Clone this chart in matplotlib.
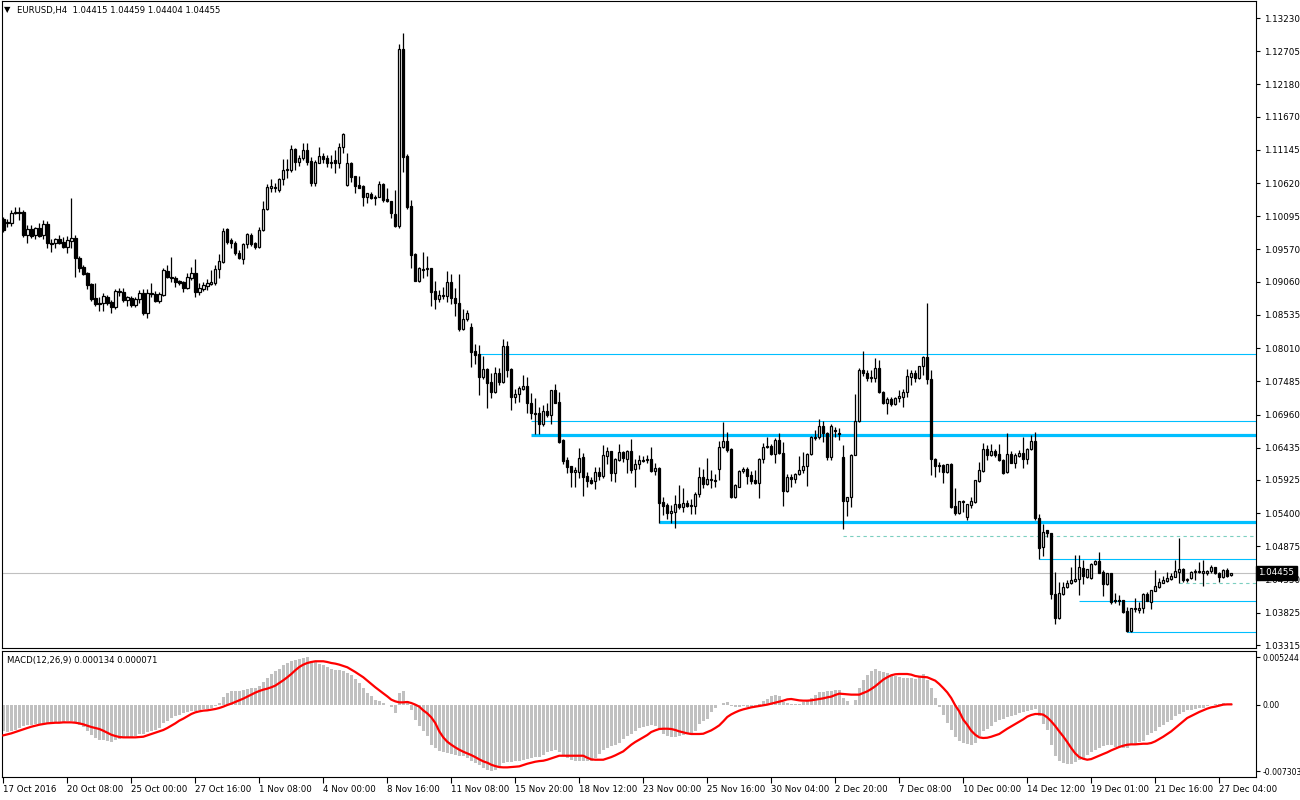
import matplotlib.pyplot as plt
import matplotlib.transforms as mtransforms
import numpy as np

plt.rcParams['font.family'] = ['DejaVu Sans']

# EURUSD H4 candles
open_ = [
    1.1005, 1.0999, 1.0999, 1.1015, 1.1016, 1.1016, 1.0980, 1.0989, 1.0980, 1.0991,
    1.0980, 1.0997, 1.0967, 1.0967, 1.0974, 1.0969, 1.0961, 1.0970, 1.0975, 1.0944,
    1.0929, 1.0920, 1.0902, 1.0880, 1.0872, 1.0872, 1.0882, 1.0874, 1.0866, 1.0890,
    1.0890, 1.0877, 1.0880, 1.0869, 1.0879, 1.0888, 1.0857, 1.0887, 1.0887, 1.0876,
    1.0885, 1.0923, 1.0913, 1.0912, 1.0907, 1.0906, 1.0896, 1.0912, 1.0920, 1.0890,
    1.0894, 1.0899, 1.0902, 1.0904, 1.0926, 1.0937, 1.0989, 1.0972, 1.0967, 1.0951,
    1.0942, 1.0966, 1.0980, 1.0967, 1.0961, 1.0988, 1.1021, 1.1054, 1.1056, 1.1051,
    1.1068, 1.1083, 1.1083, 1.1116, 1.1095, 1.1101, 1.1114, 1.1097, 1.1062, 1.1094,
    1.1105, 1.1101, 1.1094, 1.1098, 1.1094, 1.1119, 1.1059, 1.1094, 1.1073, 1.1059,
    1.1057, 1.1040, 1.1045, 1.1040, 1.1040, 1.1061, 1.1037, 1.1034, 1.1013, 1.0994,
    1.1274, 1.1105, 1.1026, 1.0950, 1.0907, 1.0926, 1.0926, 1.0928, 1.0891, 1.0879,
    1.0885, 1.0883, 1.0906, 1.0880, 1.0872, 1.0831, 1.0847, 1.0834, 1.0796, 1.0792,
    1.0755, 1.0768, 1.0747, 1.0732, 1.0762, 1.0747, 1.0804, 1.0768, 1.0724, 1.0728,
    1.0736, 1.0741, 1.0714, 1.0698, 1.0698, 1.0681, 1.0702, 1.0695, 1.0735, 1.0716,
    1.0656, 1.0624, 1.0614, 1.0605, 1.0605, 1.0629, 1.0599, 1.0593, 1.0591, 1.0605,
    1.0599, 1.0630, 1.0638, 1.0604, 1.0624, 1.0637, 1.0626, 1.0638, 1.0610, 1.0618,
    1.0624, 1.0624, 1.0626, 1.0606, 1.0611, 1.0558, 1.0553, 1.0540, 1.0542, 1.0554,
    1.0550, 1.0556, 1.0553, 1.0551, 1.0570, 1.0597, 1.0586, 1.0594, 1.0593, 1.0610,
    1.0645, 1.0654, 1.0641, 1.0566, 1.0581, 1.0607, 1.0610, 1.0600, 1.0593, 1.0588,
    1.0626, 1.0646, 1.0646, 1.0634, 1.0656, 1.0635, 1.0575, 1.0597, 1.0594, 1.0602,
    1.0608, 1.0615, 1.0634, 1.0659, 1.0661, 1.0678, 1.0667, 1.0629, 1.0672, 1.0667,
    1.0629, 1.0559, 1.0566, 1.0632, 1.0686, 1.0766, 1.0762, 1.0754, 1.0754, 1.0770,
    1.0732, 1.0714, 1.0721, 1.0713, 1.0722, 1.0724, 1.0732, 1.0755, 1.0762, 1.0754,
    1.0773, 1.0787, 1.0752, 1.0626, 1.0616, 1.0616, 1.0605, 1.0618, 1.0551, 1.0540,
    1.0559, 1.0534, 1.0553, 1.0558, 1.0591, 1.0607, 1.0641, 1.0632, 1.0638, 1.0634,
    1.0624, 1.0605, 1.0634, 1.0619, 1.0630, 1.0635, 1.0626, 1.0641, 1.0654, 1.0532,
    1.0487, 1.0513, 1.0509, 1.0412, 1.0374, 1.0412, 1.0423, 1.0430, 1.0433, 1.0436,
    1.0453, 1.0439, 1.0438, 1.0460, 1.0464, 1.0447, 1.0428, 1.0446, 1.0403, 1.0403,
    1.0403, 1.0385, 1.0354, 1.0388, 1.0387, 1.0390, 1.0412, 1.0400, 1.0417, 1.0423,
    1.0430, 1.0433, 1.0436, 1.0439, 1.0447, 1.0452, 1.0434, 1.0437, 1.0447, 1.0447,
    1.0446, 1.0446, 1.0449, 1.0455, 1.0446, 1.0439, 1.0450, 1.04415,
]
high = [
    1.1008, 1.1005, 1.1019, 1.1024, 1.1024, 1.1019, 1.0996, 1.0996, 1.0993, 1.0999,
    1.1004, 1.1002, 1.0974, 1.0975, 1.0980, 1.0977, 1.0978, 1.1038, 1.0980, 1.0947,
    1.0932, 1.0921, 1.0904, 1.0904, 1.0882, 1.0888, 1.0885, 1.0877, 1.0894, 1.0896,
    1.0896, 1.0883, 1.0883, 1.0882, 1.0893, 1.0894, 1.0894, 1.0904, 1.0891, 1.0890,
    1.0928, 1.0932, 1.0945, 1.0915, 1.0909, 1.0907, 1.0920, 1.0929, 1.0942, 1.0904,
    1.0906, 1.0910, 1.0925, 1.0932, 1.0950, 1.0991, 1.0991, 1.0975, 1.0970, 1.0956,
    1.0967, 1.0983, 1.0983, 1.0969, 1.0993, 1.1034, 1.1061, 1.1068, 1.1062, 1.1070,
    1.1100, 1.1100, 1.1122, 1.1117, 1.1106, 1.1125, 1.1125, 1.1103, 1.1098, 1.1119,
    1.1110, 1.1106, 1.1106, 1.1114, 1.1125, 1.1141, 1.1109, 1.1095, 1.1073, 1.1073,
    1.1059, 1.1046, 1.1048, 1.1043, 1.1065, 1.1062, 1.1054, 1.1034, 1.1051, 1.1282,
    1.1300, 1.1108, 1.1035, 1.0951, 1.0929, 1.0953, 1.0947, 1.0928, 1.0907, 1.0893,
    1.0898, 1.0923, 1.0918, 1.0896, 1.0918, 1.0863, 1.0861, 1.0841, 1.0808, 1.0806,
    1.0789, 1.0770, 1.0762, 1.0771, 1.0770, 1.0816, 1.0812, 1.0770, 1.0736, 1.0741,
    1.0758, 1.0755, 1.0730, 1.0722, 1.0708, 1.0711, 1.0714, 1.0735, 1.0744, 1.0732,
    1.0657, 1.0629, 1.0614, 1.0613, 1.0643, 1.0635, 1.0605, 1.0597, 1.0613, 1.0613,
    1.0648, 1.0645, 1.0638, 1.0627, 1.0649, 1.0638, 1.0640, 1.0657, 1.0626, 1.0632,
    1.0630, 1.0632, 1.0645, 1.0619, 1.0613, 1.0566, 1.0556, 1.0553, 1.0569, 1.0585,
    1.0580, 1.0561, 1.0562, 1.0574, 1.0613, 1.0610, 1.0627, 1.0608, 1.0602, 1.0654,
    1.0684, 1.0668, 1.0643, 1.0586, 1.0608, 1.0613, 1.0613, 1.0607, 1.0608, 1.0627,
    1.0651, 1.0661, 1.0649, 1.0659, 1.0667, 1.0653, 1.0602, 1.0602, 1.0604, 1.0630,
    1.0637, 1.0635, 1.0662, 1.0672, 1.0689, 1.0686, 1.0668, 1.0681, 1.0676, 1.0675,
    1.0648, 1.0566, 1.0634, 1.0728, 1.0770, 1.0796, 1.0766, 1.0766, 1.0785, 1.0782,
    1.0733, 1.0724, 1.0724, 1.0724, 1.0735, 1.0736, 1.0768, 1.0766, 1.0766, 1.0773,
    1.0789, 1.0872, 1.0766, 1.0627, 1.0621, 1.0618, 1.0618, 1.0619, 1.0580, 1.0559,
    1.0561, 1.0555, 1.0566, 1.0592, 1.0621, 1.0651, 1.0648, 1.0649, 1.0641, 1.0649,
    1.0626, 1.0667, 1.0638, 1.0635, 1.0640, 1.0661, 1.0643, 1.0664, 1.0668, 1.0539,
    1.0523, 1.0513, 1.0509, 1.0447, 1.0431, 1.0431, 1.0434, 1.0455, 1.0474, 1.0474,
    1.0466, 1.0452, 1.0461, 1.0466, 1.0479, 1.0450, 1.0446, 1.0446, 1.0414, 1.0411,
    1.0403, 1.0392, 1.0390, 1.0406, 1.0400, 1.0414, 1.0415, 1.0419, 1.0450, 1.0437,
    1.0441, 1.0447, 1.0446, 1.0466, 1.0501, 1.0453, 1.0437, 1.0449, 1.0452, 1.0463,
    1.0466, 1.0450, 1.0458, 1.0455, 1.0447, 1.0452, 1.0453, 1.04459,
]
low = [
    1.0985, 1.0993, 1.0994, 1.1013, 1.1004, 1.0977, 1.0967, 1.0975, 1.0974, 1.0977,
    1.0974, 1.0959, 1.0953, 1.0959, 1.0966, 1.0959, 1.0951, 1.0959, 1.0913, 1.0921,
    1.0917, 1.0894, 1.0876, 1.0868, 1.0860, 1.0860, 1.0869, 1.0857, 1.0863, 1.0883,
    1.0874, 1.0868, 1.0866, 1.0866, 1.0872, 1.0853, 1.0849, 1.0882, 1.0874, 1.0872,
    1.0883, 1.0912, 1.0906, 1.0898, 1.0901, 1.0890, 1.0894, 1.0909, 1.0882, 1.0885,
    1.0891, 1.0893, 1.0901, 1.0901, 1.0912, 1.0936, 1.0966, 1.0959, 1.0948, 1.0942,
    1.0934, 1.0959, 1.0963, 1.0958, 1.0959, 1.0986, 1.1019, 1.1048, 1.1048, 1.1048,
    1.1059, 1.1070, 1.1080, 1.1083, 1.1089, 1.1098, 1.1090, 1.1057, 1.1057, 1.1094,
    1.1094, 1.1087, 1.1086, 1.1078, 1.1086, 1.1109, 1.1057, 1.1064, 1.1046, 1.1054,
    1.1026, 1.1030, 1.1037, 1.1027, 1.1040, 1.1032, 1.1032, 1.1007, 1.0993, 1.0991,
    1.1080, 1.1021, 1.0928, 1.0907, 1.0906, 1.0912, 1.0915, 1.0868, 1.0863, 1.0874,
    1.0879, 1.0874, 1.0871, 1.0852, 1.0828, 1.0830, 1.0844, 1.0771, 1.0776, 1.0727,
    1.0752, 1.0706, 1.0722, 1.0730, 1.0743, 1.0746, 1.0755, 1.0703, 1.0714, 1.0716,
    1.0735, 1.0698, 1.0689, 1.0665, 1.0665, 1.0678, 1.0692, 1.0681, 1.0714, 1.0651,
    1.0618, 1.0604, 1.0581, 1.0581, 1.0596, 1.0567, 1.0581, 1.0586, 1.0578, 1.0593,
    1.0596, 1.0618, 1.0591, 1.0589, 1.0622, 1.0621, 1.0604, 1.0604, 1.0581, 1.0610,
    1.0621, 1.0619, 1.0605, 1.0600, 1.0525, 1.0537, 1.0531, 1.0525, 1.0517, 1.0547,
    1.0542, 1.0550, 1.0539, 1.0539, 1.0566, 1.0580, 1.0585, 1.0580, 1.0581, 1.0593,
    1.0643, 1.0637, 1.0564, 1.0564, 1.0581, 1.0604, 1.0586, 1.0586, 1.0586, 1.0564,
    1.0619, 1.0643, 1.0632, 1.0619, 1.0634, 1.0551, 1.0573, 1.0581, 1.0588, 1.0600,
    1.0604, 1.0583, 1.0632, 1.0656, 1.0657, 1.0653, 1.0624, 1.0624, 1.0661, 1.0656,
    1.0515, 1.0536, 1.0550, 1.0632, 1.0684, 1.0757, 1.0749, 1.0747, 1.0747, 1.0730,
    1.0713, 1.0697, 1.0710, 1.0711, 1.0716, 1.0708, 1.0724, 1.0743, 1.0747, 1.0752,
    1.0759, 1.0744, 1.0600, 1.0597, 1.0605, 1.0588, 1.0604, 1.0548, 1.0537, 1.0539,
    1.0542, 1.0529, 1.0548, 1.0556, 1.0589, 1.0605, 1.0624, 1.0630, 1.0629, 1.0622,
    1.0602, 1.0604, 1.0619, 1.0611, 1.0629, 1.0611, 1.0618, 1.0640, 1.0529, 1.0468,
    1.0472, 1.0502, 1.0404, 1.0365, 1.0373, 1.0411, 1.0422, 1.0428, 1.0431, 1.0411,
    1.0428, 1.0438, 1.0436, 1.0458, 1.0446, 1.0409, 1.0427, 1.0397, 1.0398, 1.0395,
    1.0382, 1.0352, 1.0352, 1.0384, 1.0382, 1.0382, 1.0401, 1.0388, 1.0417, 1.0422,
    1.0430, 1.0431, 1.0434, 1.0439, 1.0430, 1.0431, 1.0431, 1.0436, 1.0434, 1.0446,
    1.0425, 1.0442, 1.0446, 1.0444, 1.0431, 1.0437, 1.0439, 1.04404,
]
close = [
    1.0988, 1.1000, 1.1015, 1.1016, 1.1015, 1.0980, 1.0989, 1.0978, 1.0991, 1.0978,
    1.0997, 1.0967, 1.0966, 1.0974, 1.0967, 1.0961, 1.0972, 1.0975, 1.0944, 1.0928,
    1.0918, 1.0901, 1.0879, 1.0871, 1.0871, 1.0883, 1.0872, 1.0866, 1.0891, 1.0891,
    1.0877, 1.0882, 1.0869, 1.0879, 1.0888, 1.0857, 1.0888, 1.0888, 1.0876, 1.0887,
    1.0925, 1.0913, 1.0912, 1.0906, 1.0904, 1.0896, 1.0913, 1.0920, 1.0890, 1.0896,
    1.0901, 1.0904, 1.0906, 1.0926, 1.0939, 1.0986, 1.0969, 1.0967, 1.0951, 1.0944,
    1.0966, 1.0981, 1.0966, 1.0961, 1.0988, 1.1021, 1.1056, 1.1057, 1.1054, 1.1068,
    1.1083, 1.1084, 1.1116, 1.1095, 1.1101, 1.1114, 1.1095, 1.1062, 1.1095, 1.1105,
    1.1100, 1.1094, 1.1095, 1.1094, 1.1119, 1.1140, 1.1094, 1.1072, 1.1057, 1.1054,
    1.1040, 1.1046, 1.1038, 1.1038, 1.1061, 1.1035, 1.1034, 1.1015, 1.0994, 1.1274,
    1.1103, 1.1024, 1.0948, 1.0907, 1.0928, 1.0925, 1.0928, 1.0890, 1.0879, 1.0885,
    1.0883, 1.0906, 1.0880, 1.0872, 1.0831, 1.0847, 1.0857, 1.0795, 1.0790, 1.0755,
    1.0768, 1.0746, 1.0732, 1.0762, 1.0747, 1.0804, 1.0766, 1.0724, 1.0728, 1.0738,
    1.0741, 1.0714, 1.0698, 1.0697, 1.0681, 1.0702, 1.0695, 1.0735, 1.0714, 1.0652,
    1.0622, 1.0613, 1.0605, 1.0608, 1.0627, 1.0597, 1.0591, 1.0588, 1.0605, 1.0599,
    1.0632, 1.0638, 1.0604, 1.0626, 1.0637, 1.0627, 1.0638, 1.0608, 1.0618, 1.0624,
    1.0622, 1.0626, 1.0606, 1.0611, 1.0556, 1.0551, 1.0540, 1.0543, 1.0554, 1.0550,
    1.0556, 1.0551, 1.0551, 1.0570, 1.0597, 1.0586, 1.0594, 1.0593, 1.0591, 1.0645,
    1.0654, 1.0640, 1.0566, 1.0585, 1.0607, 1.0610, 1.0599, 1.0591, 1.0588, 1.0626,
    1.0645, 1.0645, 1.0634, 1.0656, 1.0635, 1.0575, 1.0597, 1.0594, 1.0602, 1.0608,
    1.0615, 1.0634, 1.0661, 1.0661, 1.0678, 1.0667, 1.0629, 1.0678, 1.0670, 1.0665,
    1.0559, 1.0566, 1.0632, 1.0686, 1.0766, 1.0762, 1.0754, 1.0755, 1.0770, 1.0732,
    1.0714, 1.0721, 1.0713, 1.0722, 1.0725, 1.0732, 1.0757, 1.0762, 1.0754, 1.0773,
    1.0787, 1.0752, 1.0626, 1.0615, 1.0615, 1.0605, 1.0618, 1.0550, 1.0540, 1.0559,
    1.0558, 1.0555, 1.0559, 1.0592, 1.0608, 1.0641, 1.0632, 1.0638, 1.0632, 1.0624,
    1.0604, 1.0634, 1.0619, 1.0632, 1.0635, 1.0626, 1.0641, 1.0654, 1.0532, 1.0485,
    1.0510, 1.0509, 1.0412, 1.0374, 1.0414, 1.0423, 1.0430, 1.0434, 1.0436, 1.0455,
    1.0441, 1.0452, 1.0460, 1.0464, 1.0446, 1.0428, 1.0446, 1.0400, 1.0401, 1.0401,
    1.0384, 1.0354, 1.0390, 1.0390, 1.0390, 1.0412, 1.0401, 1.0419, 1.0425, 1.0431,
    1.0434, 1.0438, 1.0441, 1.0449, 1.0452, 1.0434, 1.0436, 1.0447, 1.0449, 1.0449,
    1.0449, 1.0449, 1.0455, 1.0446, 1.0439, 1.0450, 1.0441, 1.04455,
]

# MACD(12,26,9): main (histogram) and signal line
macd_main = [
    -0.00290, -0.00297, -0.00290, -0.00272, -0.00253, -0.00235, -0.00224, -0.00217, -0.00213, -0.00209,
    -0.00202, -0.00202, -0.00195, -0.00191, -0.00187, -0.00184, -0.00180, -0.00180, -0.00195, -0.00217,
    -0.00246, -0.00283, -0.00334, -0.00363, -0.00382, -0.00389, -0.00400, -0.00407, -0.00382, -0.00371,
    -0.00363, -0.00356, -0.00349, -0.00338, -0.00319, -0.00319, -0.00297, -0.00283, -0.00272, -0.00253,
    -0.00198, -0.00172, -0.00143, -0.00125, -0.00106, -0.00088, -0.00077, -0.00062, -0.00070, -0.00055,
    -0.00048, -0.00040, -0.00033, -0.00015, 0.00022, 0.00084, 0.00132, 0.00150, 0.00158, 0.00158,
    0.00165, 0.00180, 0.00187, 0.00187, 0.00206, 0.00250, 0.00297, 0.00341, 0.00371, 0.00400,
    0.00437, 0.00462, 0.00488, 0.00499, 0.00506, 0.00517, 0.005244, 0.00488, 0.00473, 0.00451,
    0.00437, 0.00418, 0.00400, 0.00389, 0.00385, 0.00378, 0.00352, 0.00327, 0.00290, 0.00242,
    0.00187, 0.00132, 0.00095, 0.00059, 0.00048, 0.00022, 0.00004, -0.00026, -0.00088, 0.00132,
    0.00150, 0.00040, -0.00051, -0.00161, -0.00235, -0.00290, -0.00345, -0.00437, -0.00473, -0.00510,
    -0.00521, -0.00528, -0.00539, -0.00547, -0.00558, -0.00565, -0.00584, -0.00613, -0.00639, -0.00664,
    -0.00694, -0.00712, -0.007303, -0.00715, -0.00694, -0.00639, -0.00628, -0.00628, -0.00620, -0.00613,
    -0.00602, -0.00595, -0.00584, -0.00576, -0.00569, -0.00554, -0.00517, -0.00503, -0.00492, -0.00517,
    -0.00554, -0.00584, -0.00602, -0.00613, -0.00620, -0.00620, -0.00620, -0.00613, -0.00584, -0.00539,
    -0.00492, -0.00473, -0.00455, -0.00437, -0.00418, -0.00371, -0.00345, -0.00319, -0.00283, -0.00253,
    -0.00239, -0.00228, -0.00224, -0.00231, -0.00272, -0.00319, -0.00345, -0.00352, -0.00349, -0.00345,
    -0.00334, -0.00319, -0.00308, -0.00290, -0.00209, -0.00180, -0.00150, -0.00077, -0.00033, -0.00004,
    0.00022, 0.00033, -0.00015, -0.00018, -0.00018, -0.00015, -0.00018, -0.00022, -0.00011, 0.00011,
    0.00040, 0.00070, 0.00095, 0.00114, 0.00095, 0.00033, 0.00018, 0.00011, 0.00011, 0.00015,
    0.00029, 0.00048, 0.00077, 0.00114, 0.00139, 0.00147, 0.00150, 0.00158, 0.00161, 0.00169,
    0.00077, 0.00040, 0.00004, 0.00059, 0.00187, 0.00279, 0.00334, 0.00378, 0.00400, 0.00378,
    0.00363, 0.00352, 0.00334, 0.00316, 0.00305, 0.00297, 0.00297, 0.00297, 0.00290, 0.00305,
    0.00341, 0.00279, 0.00187, 0.00077, -0.00026, -0.00106, -0.00198, -0.00272, -0.00356, -0.00400,
    -0.00418, -0.00429, -0.00437, -0.00418, -0.00345, -0.00290, -0.00264, -0.00235, -0.00187, -0.00161,
    -0.00150, -0.00136, -0.00125, -0.00106, -0.00092, -0.00077, -0.00070, -0.00051, -0.00040, -0.00125,
    -0.00209, -0.00272, -0.00437, -0.00565, -0.00620, -0.00639, -0.00650, -0.00650, -0.00628, -0.00602,
    -0.00584, -0.00547, -0.00517, -0.00492, -0.00473, -0.00455, -0.00444, -0.00437, -0.00459, -0.00466,
    -0.00473, -0.00473, -0.00444, -0.00429, -0.00411, -0.00393, -0.00334, -0.00312, -0.00290, -0.00246,
    -0.00217, -0.00187, -0.00161, -0.00125, -0.00099, -0.00077, -0.00055, -0.00051, -0.00044, -0.00037,
    -0.00029, -0.00015, -0.00004, 0.00007, 0.00015, 0.00018, 0.00015, 0.000134,
]
macd_signal = [
    -0.00334, -0.00323, -0.00312, -0.00297, -0.00283, -0.00268, -0.00253, -0.00239, -0.00228, -0.00217,
    -0.00209, -0.00202, -0.00198, -0.00195, -0.00195, -0.00191, -0.00191, -0.00191, -0.00195, -0.00202,
    -0.00213, -0.00228, -0.00242, -0.00253, -0.00264, -0.00283, -0.00305, -0.00327, -0.00341, -0.00352,
    -0.00356, -0.00356, -0.00356, -0.00356, -0.00352, -0.00349, -0.00334, -0.00319, -0.00305, -0.00290,
    -0.00275, -0.00253, -0.00228, -0.00202, -0.00172, -0.00150, -0.00125, -0.00099, -0.00081, -0.00070,
    -0.00062, -0.00059, -0.00051, -0.00044, -0.00033, -0.00018, 0.00000, 0.00015, 0.00033, 0.00051,
    0.00070, 0.00092, 0.00114, 0.00136, 0.00154, 0.00169, 0.00180, 0.00195, 0.00213, 0.00242,
    0.00272, 0.00305, 0.00341, 0.00382, 0.00418, 0.00444, 0.00462, 0.00473, 0.00481, 0.00481,
    0.00481, 0.00473, 0.00462, 0.00455, 0.00444, 0.00429, 0.00415, 0.00389, 0.00363, 0.00334,
    0.00305, 0.00268, 0.00231, 0.00195, 0.00161, 0.00128, 0.00095, 0.00059, 0.00040, 0.00029,
    0.00029, 0.00033, 0.00022, 0.00004, -0.00018, -0.00059, -0.00092, -0.00136, -0.00198, -0.00290,
    -0.00356, -0.00404, -0.00437, -0.00466, -0.00492, -0.00514, -0.00532, -0.00551, -0.00573, -0.00598,
    -0.00620, -0.00635, -0.00657, -0.00672, -0.00683, -0.00686, -0.00686, -0.00683, -0.00679, -0.00675,
    -0.00661, -0.00646, -0.00635, -0.00624, -0.00617, -0.00613, -0.00602, -0.00587, -0.00573, -0.00558,
    -0.00558, -0.00558, -0.00558, -0.00558, -0.00558, -0.00558, -0.00580, -0.00598, -0.00602, -0.00602,
    -0.00602, -0.00587, -0.00573, -0.00554, -0.00532, -0.00510, -0.00473, -0.00437, -0.00407, -0.00382,
    -0.00356, -0.00330, -0.00297, -0.00279, -0.00264, -0.00261, -0.00261, -0.00264, -0.00275, -0.00290,
    -0.00301, -0.00312, -0.00319, -0.00319, -0.00319, -0.00316, -0.00297, -0.00279, -0.00253, -0.00224,
    -0.00180, -0.00132, -0.00103, -0.00081, -0.00062, -0.00048, -0.00037, -0.00026, -0.00018, -0.00011,
    -0.00004, 0.00004, 0.00015, 0.00026, 0.00037, 0.00048, 0.00062, 0.00066, 0.00059, 0.00051,
    0.00048, 0.00048, 0.00051, 0.00059, 0.00066, 0.00073, 0.00084, 0.00092, 0.00110, 0.00125,
    0.00121, 0.00117, 0.00114, 0.00114, 0.00114, 0.00132, 0.00150, 0.00176, 0.00206, 0.00242,
    0.00279, 0.00305, 0.00327, 0.00338, 0.00341, 0.00341, 0.00341, 0.00334, 0.00319, 0.00312,
    0.00308, 0.00305, 0.00286, 0.00268, 0.00231, 0.00187, 0.00139, 0.00077, -0.00004, -0.00070,
    -0.00161, -0.00217, -0.00283, -0.00327, -0.00356, -0.00363, -0.00360, -0.00349, -0.00334, -0.00319,
    -0.00290, -0.00261, -0.00235, -0.00209, -0.00184, -0.00158, -0.00128, -0.00110, -0.00099, -0.00099,
    -0.00106, -0.00136, -0.00180, -0.00231, -0.00290, -0.00345, -0.00407, -0.00473, -0.00532, -0.00573,
    -0.00591, -0.00602, -0.00595, -0.00576, -0.00558, -0.00539, -0.00521, -0.00499, -0.00481, -0.00462,
    -0.00448, -0.00437, -0.00433, -0.00433, -0.00429, -0.00426, -0.00426, -0.00418, -0.00400, -0.00374,
    -0.00349, -0.00319, -0.00290, -0.00253, -0.00217, -0.00180, -0.00143, -0.00121, -0.00099, -0.00077,
    -0.00059, -0.00040, -0.00026, -0.00018, -0.00007, 0.00004, 0.00007, 0.000071,
]

# drawn horizontal levels: price and the bar where each starts
thick_levels = [1.0664, 1.0526]
thick_start = [132, 164]
thin_levels = [1.0792, 1.0686, 1.0468, 1.0401, 1.0352]
thin_start = [119, 132, 259, 269, 281]
dashed_levels = [1.0504, 1.0430]
dashed_start = [210, 294]

price_ticks = [1.13230, 1.12705, 1.12180, 1.11670, 1.11145, 1.10620, 1.10095,
               1.09570, 1.09060, 1.08535, 1.08010, 1.07485, 1.06960, 1.06435,
               1.05925, 1.05400, 1.04875, 1.04350, 1.03825, 1.03315]
macd_ticks = [0.005244, 0.0, -0.007303]
macd_tick_labels = ["0.005244", "0.00", "-0.007303"]
date_labels = ["17 Oct 2016", "20 Oct 08:00", "25 Oct 00:00", "27 Oct 16:00",
               "1 Nov 08:00", "4 Nov 00:00", "8 Nov 16:00", "11 Nov 08:00",
               "15 Nov 20:00", "18 Nov 12:00", "23 Nov 00:00", "25 Nov 16:00",
               "30 Nov 04:00", "2 Dec 20:00", "7 Dec 08:00", "10 Dec 00:00",
               "14 Dec 12:00", "19 Dec 01:00", "21 Dec 16:00", "27 Dec 04:00"]
bars_per_label = 16

o = np.array(open_)
h = np.array(high)
l = np.array(low)
c = np.array(close)
x = np.arange(len(c))
up = c >= o

W, H = 1300, 800
fig = plt.figure(figsize=(13, 8), dpi=100)
ax = fig.add_axes([2 / W, 1 - 648 / H, 1254 / W, 647 / H])
axm = fig.add_axes([2 / W, 1 - 777 / H, 1254 / W, 126 / H])

xlim = (-0.33, 313.2)
sky = "#00BFFF"

# ---- price window ----
ax.set_xlim(*xlim)
ax.set_ylim(1.03268, 1.13499)
ax.axhline(c[-1], color="#C0C0C0", lw=0.8, zorder=1)
for lev, s in zip(thin_levels, thin_start):
    ax.hlines(lev, s, xlim[1], color=sky, lw=0.8, zorder=2)
for lev, s in zip(thick_levels, thick_start):
    ax.hlines(lev, s, xlim[1], color=sky, lw=2.3, zorder=2)
for lev, s in zip(dashed_levels, dashed_start):
    ax.hlines(lev, s, xlim[1], color="#7ccfc0", lw=0.8, linestyles=(0, (3, 3)), zorder=2)

ax.vlines(x, l, h, color="black", lw=0.9, zorder=3)
ax.bar(x[up], (c - o)[up], bottom=o[up], width=0.6, facecolor="white",
       edgecolor="black", lw=0.9, zorder=4)
ax.bar(x[~up], (c - o)[~up], bottom=o[~up], width=0.6, facecolor="black",
       edgecolor="black", lw=0.9, zorder=4)

ax.yaxis.tick_right()
ax.set_yticks(price_ticks)
ax.set_yticklabels([f"{v:.5f}" for v in price_ticks])
ax.tick_params(axis="y", direction="out", length=3, width=0.8, pad=3, labelsize=6.3)
ax.set_xticks([])
for sp in ax.spines.values():
    sp.set_linewidth(0.8)

trans = mtransforms.blended_transform_factory(ax.transAxes, ax.transData)
ax.text(1.0018, c[-1], f"{c[-1]:.5f}", transform=trans, ha="left", va="center",
        color="white", fontsize=6.3, zorder=10, clip_on=False,
        bbox=dict(boxstyle="square,pad=0.3", fc="black", ec="black"))

fig.text(4 / W, 1 - 10 / H, "\u25BC", fontsize=6, va="center", ha="left")
fig.text(17 / W, 1 - 10 / H, "EURUSD,H4  " + " ".join(f"{v:.5f}" for v in (o[-1], h[-1], l[-1], c[-1])),
         fontsize=6.1, va="center", ha="left")

# ---- MACD window ----
axm.set_xlim(*xlim)
axm.set_ylim(-0.00792, 0.00594)
axm.bar(x, macd_main, width=0.7, color="#C0C0C0", lw=0, zorder=2)
axm.plot(x, macd_signal, color="red", lw=1.6, zorder=3)
axm.yaxis.tick_right()
axm.set_yticks(macd_ticks)
axm.set_yticklabels(macd_tick_labels)
axm.tick_params(axis="y", direction="out", length=3, width=0.8, pad=2, labelsize=5.6)
axm.set_xticks(np.arange(len(date_labels)) * bars_per_label)
axm.set_xticklabels(date_labels, ha="left")
axm.tick_params(axis="x", direction="out", length=4, width=0.8, pad=2, labelsize=6.2)
for sp in axm.spines.values():
    sp.set_linewidth(0.8)
axm.text(0.004, 0.96, f"MACD(12,26,9) {macd_main[-1]:.6f} {macd_signal[-1]:.6f}",
         transform=axm.transAxes, fontsize=6.1, va="top", ha="left")

fig.savefig("out.png", dpi=100, facecolor="white")
